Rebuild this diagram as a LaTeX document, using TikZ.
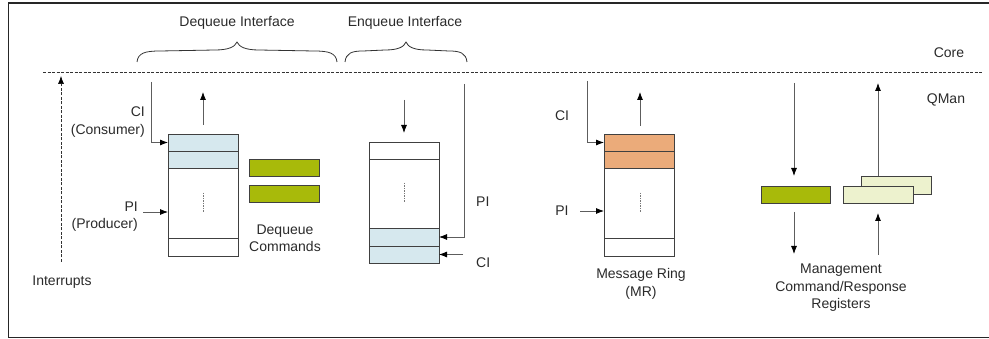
\documentclass[tikz,border=0pt]{standalone}
\usepackage{fontspec}
\setmainfont{Liberation Sans}
\usetikzlibrary{arrows.meta}
\definecolor{lblue}{HTML}{D6E8EE}
\definecolor{lorange}{HTML}{EBAB7A}
\definecolor{dgreen}{HTML}{A8BA0A}
\definecolor{lyellow}{HTML}{EDF2CE}
\definecolor{edge}{HTML}{404040}
\definecolor{txt}{HTML}{2A2A2A}
\begin{document}
\begin{tikzpicture}[x=1pt,y=-1pt,
  every node/.style={font=\fontsize{14}{17.5}\selectfont, text=txt},
  cell/.style={draw=edge, line width=0.9pt, inner sep=0pt, outer sep=0pt, anchor=north west, minimum width=70pt},
  cmdbox/.style={draw=edge, line width=0.9pt, inner sep=0pt, outer sep=0pt, anchor=north west, minimum width=70pt, minimum height=17pt},
  tip/.style={-{Latex[length=8pt,width=6pt,black]}},
  conn/.style={draw=edge!85, line width=0.8pt, tip},
  dashmark/.style={draw=edge!70, line width=0.6pt, dash pattern=on 1.5pt off 1pt},
  bound/.style={draw=black!80, line width=0.6pt, dash pattern=on 3pt off 1.5pt},
  lbl/.style={inner sep=0pt, align=center}
]
\useasboundingbox (0,0) rectangle (989,339);
% frame (right edge lies outside the picture)
\draw[line width=1.2pt, draw=black!85] (995,3) -- (8.5,3) -- (8.5,337.5) -- (995,337.5);
% Core / QMan boundary
\draw[bound] (43,72) -- (983,72);
\node[lbl] (core) at (949,53) {Core};
\node[lbl] (qman) at (946,100) {QMan};
% braces
\draw[black!80, line width=0.8pt] (137,62) .. controls (138,53) and (145,51) .. (160,51) -- (215,50) .. controls (228,50) and (235,47) .. (237,42)
  .. controls (239,47) and (246,50) .. (259,50) -- (314,51) .. controls (329,51) and (336,53) .. (337,62);
\draw[black!80, line width=0.8pt] (345,62) .. controls (346,53) and (352,51) .. (363,51) -- (385,50) .. controls (398,50) and (404,47) .. (406,42)
  .. controls (408,47) and (414,50) .. (427,50) -- (449,51) .. controls (460,51) and (466,53) .. (467,62);
\node[lbl] (deqif) at (237,23) {Dequeue Interface};
\node[lbl] (enqif) at (405,23) {Enqueue Interface};
% interrupts
\coordinate (intA) at (61,262);
\coordinate (intB) at (61,76);
\draw[bound, tip] (intA) -- (intB);
\node[lbl] (intr) at (62,282) {Interrupts};
% dequeue ring
\node[cell, fill=lblue, minimum height=17pt] (dq1) at (168,134) {};
\node[cell, fill=lblue, minimum height=17pt] (dq2) at (168,151) {};
\node[cell, fill=white, minimum height=70pt] (dq3) at (168,168) {};
\node[cell, fill=white, minimum height=18pt] (dq4) at (168,238) {};
\draw[dashmark] (203,193) -- (203,213);
\coordinate (dqci) at (151,82);
\draw[conn] (dqci) |- (dq1.west);
\coordinate (dqupA) at (203,125);
\coordinate (dqupB) at (203,92);
\draw[conn] (dqupA) -- (dqupB);
\coordinate (dqpi) at (143,212);
\draw[conn] (dqpi) -- (dqpi -| dq3.west);
\node[lbl, align=right, anchor=east] (dqcil) at (145,122) {CI\\(Consumer)};
\node[lbl, align=right, anchor=east] (dqpil) at (138,216.5) {PI\\(Producer)};
% dequeue commands
\node[cmdbox, fill=dgreen] (dc1) at (249,159) {};
\node[cmdbox, fill=dgreen] (dc2) at (249,185) {};
\node[lbl] (dcl) at (285,238.5) {Dequeue\\Commands};
% enqueue ring
\node[cell, fill=white, minimum height=17pt] (e1) at (369,142) {};
\node[cell, fill=white, minimum height=69pt] (e2) at (369,159) {};
\node[cell, fill=lblue, minimum height=18pt] (e3) at (369,228) {};
\node[cell, fill=lblue, minimum height=17pt] (e4) at (369,246) {};
\draw[dashmark] (404,183) -- (404,203);
\coordinate (edA) at (404,100);
\coordinate (edB) at (404,133);
\draw[conn] (edA) -- (edB);
\coordinate (epi) at (464,84);
\draw[conn] (epi) |- (e3.east);
\coordinate (eci) at (463,254.5);
\draw[conn] (eci) -- (e4.east);
\node[lbl, anchor=west] (epil) at (476,202) {PI};
\node[lbl, anchor=west] (ecil) at (476,263) {CI};
% message ring
\node[cell, fill=lorange, minimum height=17pt] (m1) at (604,134) {};
\node[cell, fill=lorange, minimum height=17pt] (m2) at (604,151) {};
\node[cell, fill=white, minimum height=70pt] (m3) at (604,168) {};
\node[cell, fill=white, minimum height=18pt] (m4) at (604,238) {};
\draw[dashmark] (640,193) -- (640,213);
\coordinate (mci) at (587,81);
\draw[conn] (mci) |- (m1.west);
\coordinate (mupA) at (640,126);
\coordinate (mupB) at (640,92);
\draw[conn] (mupA) -- (mupB);
\coordinate (mpi) at (580,211);
\draw[conn] (mpi) -- (mpi -| m3.west);
\node[lbl] (mcil) at (562,116) {CI};
\node[lbl] (mpil) at (562,211) {PI};
\node[lbl] (mrl) at (641,284) {Message Ring\\(MR)};
% management registers
\node[cmdbox, fill=dgreen, minimum width=69pt] (mg) at (761,186) {};
\node[cmdbox, fill=lyellow, minimum height=18pt] (rb) at (861,176) {};
\node[cmdbox, fill=lyellow] (rf) at (843,186) {};
\coordinate (mgA) at (794,83);
\draw[conn] (mgA) -- (794,176);
\coordinate (mgB) at (794,254);
\draw[conn] (794,212) -- (mgB);
\coordinate (rsA) at (878,255);
\draw[conn] (rsA) -- (878,213);
\coordinate (rsB) at (878,83);
\draw[conn] (rb.north -| rsB) -- (rsB);
\node[lbl] (mgl) at (841,288) {Management\\Command/Response\\Registers};
\end{tikzpicture}
\end{document}
